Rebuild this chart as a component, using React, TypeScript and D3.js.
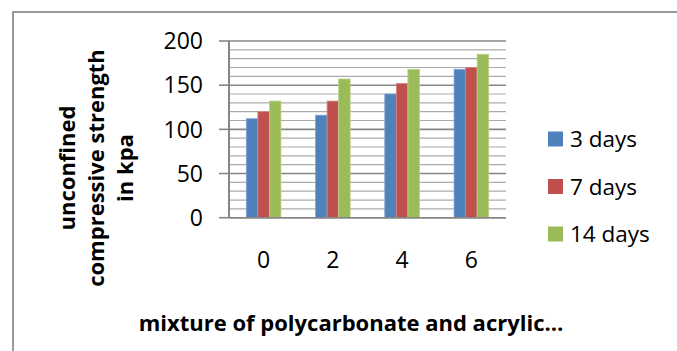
import React from "react";
import * as d3 from "d3";

const categories = ["0", "2", "4", "6"];
const seriesNames = ["3 days", "7 days", "14 days"];
const days3 = [112, 116, 140, 168];
const days7 = [120, 132, 152, 170];
const days14 = [132, 157, 168, 185];
const yTicks = [0, 50, 100, 150, 200];
const yTitleLines = ["unconfined", "compressive strength", "in kpa"];
const xTitle = "mixture of polycarbonate and acrylic…";
const colors = ["#4F81BD", "#C0504D", "#9BBB59"];
const strokes = ["#7FA3D0", "#D58684", "#B9D18A"];

const W = 677;
const H = 351;
const plot = { left: 229, right: 506, top: 41, bottom: 217.7 };

export default function App() {
  const series = [days3, days7, days14];
  const x = d3.scaleBand<string>().domain(categories).range([plot.left, plot.right]).paddingInner(0.5).paddingOuter(0.25);
  const xi = d3.scaleBand<number>().domain([0, 1, 2]).range([0, x.bandwidth()]);
  const y = d3.scaleLinear().domain([0, 200]).range([plot.bottom, plot.top]);
  const minor = d3.range(0, 201, 10);
  const font = "'Open Sans', 'Noto Sans', sans-serif";

  return (
    <div style={{ position: "absolute", left: 0, top: 0 }}>
      <svg width={W} height={H} style={{ display: "block" }}>
        <rect width={W} height={H} fill="#fff" />
        <path d={`M13,${H + 5} V12 H${W + 5}`} fill="none" stroke="#9a9a9a" strokeWidth={2} />
        {minor.map((v) => (
          <line key={"g" + v} x1={plot.left} x2={plot.right} y1={y(v)} y2={y(v)}
            stroke={v % 50 === 0 ? "#868686" : "#ababab"} strokeWidth={v % 50 === 0 ? 1.6 : 1.2} />
        ))}
        {yTicks.map((v) => (
          <g key={"t" + v}>
            <line x1={plot.left - 10} x2={plot.left} y1={y(v)} y2={y(v)} stroke="#868686" strokeWidth={1.6} />
            <text x={203} y={y(v)} dy="0.36em" textAnchor="end" fontFamily={font} fontSize={23} fill="#000">{v}</text>
          </g>
        ))}
        {categories.map((c, ci) =>
          series.map((s, si) => (
            <rect key={c + si} x={(x(c) as number) + (xi(si) as number)} y={y(s[ci])}
              width={xi.bandwidth()} height={y(0) - y(s[ci])} fill={colors[si]} stroke={strokes[si]} strokeWidth={0.8} />
          ))
        )}
        <line x1={plot.left} x2={plot.left} y1={plot.top} y2={plot.bottom} stroke="#868686" strokeWidth={2} />
        <line x1={plot.left} x2={plot.right} y1={plot.bottom} y2={plot.bottom} stroke="#868686" strokeWidth={1.6} />
        {categories.map((c) => (
          <text key={"x" + c} x={(x(c) as number) + x.bandwidth() / 2} y={260} dy="0.36em" textAnchor="middle" fontFamily={font} fontSize={23} fill="#000">{c}</text>
        ))}
        {yTitleLines.map((t, i) => (
          <text key={t} transform={`translate(${67 + i * 29},168) rotate(-90)`} dy="0.36em" textAnchor="middle"
            fontFamily={font} fontSize={22} fontWeight="bold" fill="#000">{t}</text>
        ))}
        <text x={351} y={323} dy="0.36em" textAnchor="middle" fontFamily={font} fontSize={22} fontWeight="bold" fill="#000">
          {xTitle}
        </text>
        {seriesNames.map((n, i) => (
          <g key={n} transform={`translate(548,${139 + i * 47.5})`}>
            <rect x={0} y={-7.5} width={15} height={15} fill={colors[i]} />
            <text x={22} y={0} dy="0.36em" fontFamily={font} fontSize={22.5} fill="#000">{n}</text>
          </g>
        ))}
      </svg>
    </div>
  );
}
